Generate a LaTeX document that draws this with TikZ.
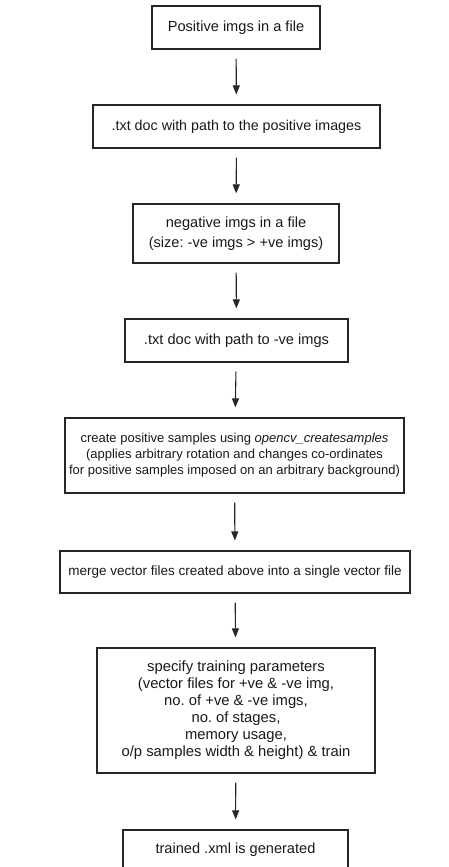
\documentclass[tikz,border=0pt]{standalone}
\usepackage{fontspec}
\setmainfont{Liberation Sans}
\usetikzlibrary{arrows.meta}
\frenchspacing
\begin{document}
\begin{tikzpicture}[x=1pt,y=-1pt,
  box/.style={draw=black!85,line width=1.2pt,align=center,inner sep=0pt,
    font=\fontsize{14.6}{17}\selectfont,text=black!90},
  flow/.style={draw=black!85,line width=1.1pt,-{Triangle[length=9pt,width=7pt]},
    shorten <=9pt,shorten >=10pt}]
\useasboundingbox (0,0) rectangle (448,867);
\node[box,minimum width=168pt,minimum height=43pt] (b1) at (236,27.5) {Positive imgs in a file};
\node[box,minimum width=287pt,minimum height=43pt,font=\fontsize{14.3}{17}\selectfont] (b2) at (236.5,126.5) {.txt doc with path to the positive images};
\node[box,minimum width=206pt,minimum height=59pt,font=\fontsize{14.6}{20}\selectfont] (b3) at (236,233.5) {negative imgs in a file\\(size: -ve imgs > +ve imgs)};
\node[box,minimum width=223pt,minimum height=43pt] (b4) at (236.5,340.5) {.txt doc with path to -ve imgs};
\node[box,minimum width=339pt,minimum height=75pt,font=\fontsize{13}{16}\selectfont] (b5) at (234.5,455.5) {create positive samples using \textit{opencv\_createsamples}\\(applies arbitrary rotation and changes co-ordinates\\for positive samples imposed on an arbitrary background)};
\node[box,minimum width=350pt,minimum height=42pt,font=\fontsize{13.5}{16}\selectfont] (b6) at (235,572) {merge vector files created above into a single vector file};
\node[box,minimum width=278pt,minimum height=125pt,font=\fontsize{14.8}{17}\selectfont] (b7) at (236,710.5) {specify training parameters\\(vector files for +ve \& -ve img,\\no. of +ve \& -ve imgs,\\no. of stages,\\memory usage,\\o/p samples width \& height) \& train};
\node[box,minimum width=225pt,minimum height=40pt] (b8) at (235.5,850) {trained .xml is generated};
\draw[flow] (b1) -- (b2);
\draw[flow] (b2) -- (b3);
\draw[flow] (b3) -- (b4);
\draw[flow] (b4) -- (b5);
\draw[flow] (b5) -- (b6);
\draw[flow] (b6) -- (b7);
\draw[flow] (b7) -- (b8);
\end{tikzpicture}
\end{document}
